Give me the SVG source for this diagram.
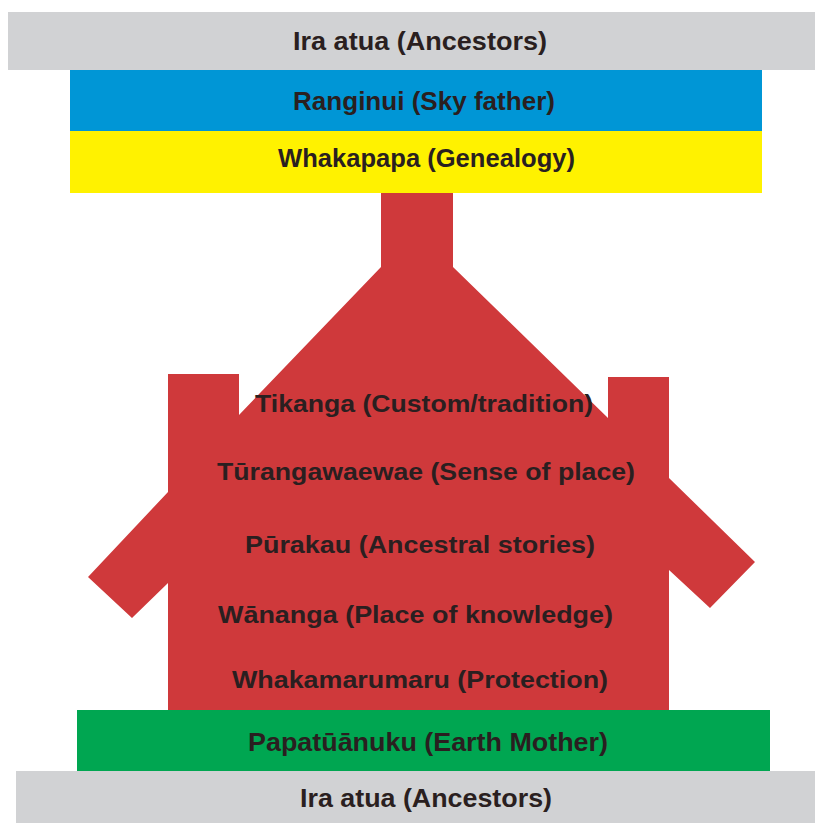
<svg xmlns="http://www.w3.org/2000/svg" width="815" height="823" viewBox="0 0 815 823">
<style>
.t{font-family:"Liberation Sans",Arial,sans-serif;font-weight:bold;font-size:23px;fill:#2a1f20}
.b{font-size:25px}
</style>
<rect width="815" height="823" fill="#ffffff"/>
<g id="ira-top">
<rect x="8" y="12" width="807" height="58" fill="#d1d2d4"/>
<text class="t b" x="293" y="50" textLength="254" lengthAdjust="spacingAndGlyphs">Ira atua (Ancestors)</text>
</g>
<g id="ranginui">
<rect x="70" y="70" width="692" height="61" fill="#0096d6"/>
<text class="t b" x="293" y="110" textLength="262" lengthAdjust="spacingAndGlyphs">Ranginui (Sky father)</text>
</g>
<g id="whakapapa">
<rect x="70" y="131" width="692" height="62" fill="#fff200"/>
<text class="t b" x="278" y="167" textLength="297" lengthAdjust="spacingAndGlyphs">Whakapapa (Genealogy)</text>
</g>
<g id="house">
<polygon fill="#cf393b" points="381,193 453,193 453,267 608,418 608,377 669,377 669,478 755,562 710,608 669,570 669,710 168,710 168,583 132,618 88,577 168,492 168,374 239,374 239,415 381,267"/>
<text class="t" x="255" y="412" textLength="338" lengthAdjust="spacingAndGlyphs">Tikanga (Custom/tradition)</text>
<text class="t" x="217" y="480" textLength="418" lengthAdjust="spacingAndGlyphs">Tūrangawaewae (Sense of place)</text>
<text class="t" x="245" y="553" textLength="350" lengthAdjust="spacingAndGlyphs">Pūrakau (Ancestral stories)</text>
<text class="t" x="218" y="623" textLength="395" lengthAdjust="spacingAndGlyphs">Wānanga (Place of knowledge)</text>
<text class="t" x="232" y="688" textLength="376" lengthAdjust="spacingAndGlyphs">Whakamarumaru (Protection)</text>
</g>
<g id="papatuanuku">
<rect x="77" y="710" width="693" height="61" fill="#00a651"/>
<text class="t b" x="248" y="751" textLength="360" lengthAdjust="spacingAndGlyphs">Papatūānuku (Earth Mother)</text>
</g>
<g id="ira-bottom">
<rect x="16" y="771" width="799" height="52" fill="#d1d2d4"/>
<text class="t b" x="300" y="807" textLength="252" lengthAdjust="spacingAndGlyphs">Ira atua (Ancestors)</text>
</g>
<g id="connectors"></g>
</svg>
